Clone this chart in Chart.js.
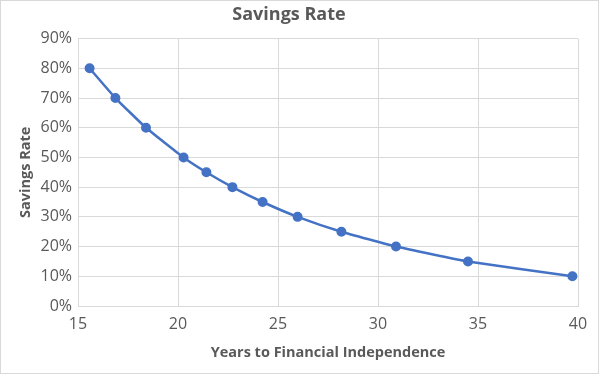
<!DOCTYPE html>
<html>
<head>
<meta charset="utf-8">
<script src="https://cdn.jsdelivr.net/npm/chart.js@4/dist/chart.umd.min.js"></script>
<style>
  html, body { margin: 0; padding: 0; background: #fff; }
  #frame { position: absolute; left: 0; top: 0; width: 597px; height: 372px; border: 1px solid #d9d9d9; }
  #wrap { position: absolute; left: 0; top: 0; width: 600px; height: 375px; }
</style>
</head>
<body>
<div id="frame"></div>
<div id="wrap"><canvas id="chart" width="600" height="375"></canvas></div>
<script>
// years to financial independence vs savings rate
const years = [15.58, 16.87, 18.4, 20.28, 21.42, 22.72, 24.23, 25.98, 28.17, 30.9, 34.5, 39.72];
const savingsRate = [80, 70, 60, 50, 45, 40, 35, 30, 25, 20, 15, 10];
const xTicks = [15, 20, 25, 30, 35, 40];
const yTicks = [0, 10, 20, 30, 40, 50, 60, 70, 80, 90];

const TEXT = '#595959';
const GRID = '#d9d9d9';
const BLUE = '#4472c4';
const FONT = "'Open Sans', sans-serif";

const points = years.map((x, i) => ({ x, y: savingsRate[i] }));

new Chart(document.getElementById('chart').getContext('2d'), {
  type: 'scatter',
  data: {
    datasets: [{
      data: points,
      showLine: true,
      borderColor: BLUE,
      backgroundColor: BLUE,
      borderWidth: 2.5,
      tension: 0.12,
      pointRadius: 3.75,
      pointHoverRadius: 3.75
    }]
  },
  options: {
    responsive: false,
    animation: false,
    layout: { padding: { left: 0, right: 22, top: 0, bottom: 0 } },
    plugins: {
      legend: { display: false },
      tooltip: { enabled: false },
      title: {
        display: true,
        text: 'Savings Rate',
        color: TEXT,
        font: { family: FONT, size: 18, weight: 'bold', lineHeight: 1.2 },
        padding: { top: 4, bottom: 13 }
      }
    },
    scales: {
      x: {
        type: 'linear',
        min: xTicks[0],
        max: xTicks[xTicks.length - 1],
        afterBuildTicks: (scale) => { scale.ticks = xTicks.map((v) => ({ value: v })); },
        ticks: { color: TEXT, font: { family: FONT, size: 16 }, padding: 9, maxRotation: 0 },
        grid: { color: GRID, drawTicks: false },
        border: { color: GRID },
        title: {
          display: true,
          text: 'Years to Financial Independence',
          color: TEXT,
          font: { family: FONT, size: 14.5, weight: 'bold' },
          padding: { top: 0, bottom: 13 }
        },
        afterFit: (scale) => { scale.height = 69; }
      },
      y: {
        type: 'linear',
        min: yTicks[0],
        max: yTicks[yTicks.length - 1],
        afterBuildTicks: (scale) => { scale.ticks = yTicks.map((v) => ({ value: v })); },
        ticks: {
          color: TEXT,
          font: { family: FONT, size: 16 },
          padding: 6,
          callback: (v) => `${v}%`
        },
        grid: { color: GRID, drawTicks: false },
        border: { color: GRID },
        title: {
          display: true,
          text: 'Savings Rate',
          color: TEXT,
          font: { family: FONT, size: 14.5, weight: 'bold' },
          padding: { top: 17, bottom: 0 }
        },
        afterFit: (scale) => { scale.width = 78; }
      }
    }
  }
});
</script>
</body>
</html>
